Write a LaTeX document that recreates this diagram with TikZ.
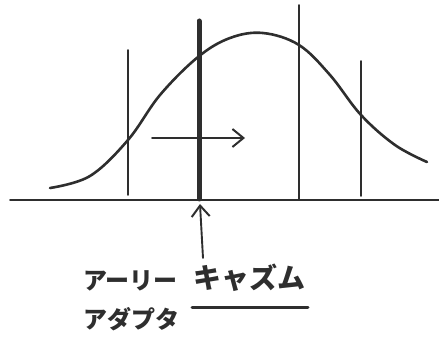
\documentclass[tikz,border=0pt]{standalone}
\usepackage{fontspec}
\newfontfamily\jp{Noto Sans CJK JP}
\usetikzlibrary{arrows.meta}
\definecolor{ink}{HTML}{2E2E2E}
\tikzset{
  ink/.style={draw=ink, line cap=round, line join=round},
  thin/.style={ink, line width=1.9pt},
  thick/.style={ink, line width=5pt},
  label/.style={text=ink, font=\jp\bfseries\fontsize{24}{28}\selectfont, inner sep=0pt},
  openhead/.style={-{Straight Barb[length=11pt, width=18pt, line width=2pt]}}
}
\begin{document}
\begin{tikzpicture}[x=1pt, y=-1pt]
\useasboundingbox (0,0) rectangle (439,339);
% baseline
\coordinate (bl) at (10,200);
\coordinate (br) at (439,200);
\draw[thin] (bl) -- (br);
% bell curve
\draw[ink, line width=2.6pt] plot[smooth, tension=0.6] coordinates {(50,188) (90,176) (128,140) (160,95) (198,57) (230,38) (263,33) (299,45) (330,75) (361,115) (395,145) (427,162)};
% vertical lines
\coordinate (v1t) at (128,50); \coordinate (v1b) at (128,195);
\coordinate (v2t) at (199,21); \coordinate (v2b) at (199,199);
\coordinate (v3t) at (299,5);  \coordinate (v3b) at (299,200);
\coordinate (v4t) at (361,61); \coordinate (v4b) at (361,196);
\draw[thin] (v1t) -- (v1b);
\draw[thick] (v2t) -- (v2b);
\draw[thin] (v3t) -- (v3b);
\draw[thin] (v4t) -- (v4b);
% horizontal arrow
\coordinate (ha) at (152,138);
\coordinate (hb) at (245,138);
\draw[thin, openhead] (ha) -- (hb);
% labels
\node[label, anchor=north west] (early1) at (83,270) {アーリー};
\node[label, anchor=north west] (early2) at (83,307) {アダプタ};
\node[label, font=\jp\bfseries\fontsize{28}{32}\selectfont, anchor=north west] (chasm) at (193,264) {キャズム};
\coordinate (ul) at (192,307);
\coordinate (ur) at (308,307);
\draw[ink, line width=3pt] (ul) -- (ur);
% up arrow
\coordinate (ua) at (203,258);
\coordinate (ub) at (200,204);
\draw[thin, openhead] (ua) -- (ub);
\end{tikzpicture}
\end{document}
